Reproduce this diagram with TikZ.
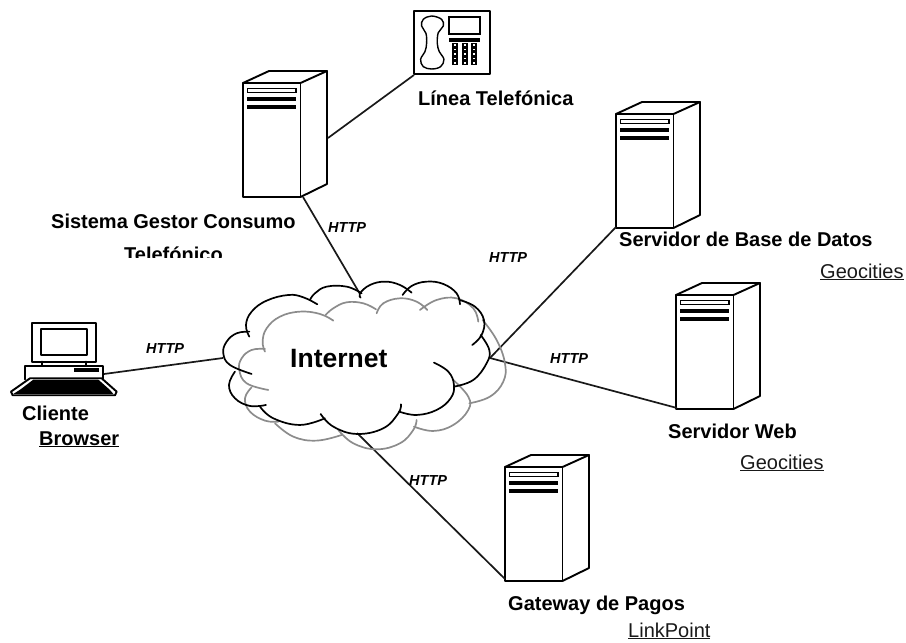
\documentclass[tikz,border=0pt]{standalone}
\usepackage{fontspec}
\setmainfont{Liberation Sans}
\tikzset{
  line/.style={line width=1.9pt,line cap=round,line join=round},
  link/.style={line width=1.7pt,black!90},
  bl/.style={line width=1.7pt,black,line cap=round},
  gr/.style={line width=1.7pt,black!45,line cap=round},
  lab/.style={font=\fontsize{20}{24}\selectfont\bfseries,anchor=base west,inner sep=0pt,text=black},
  plain/.style={font=\fontsize{20}{24}\selectfont,anchor=base west,inner sep=0pt,text=black!90},
  http/.style={font=\fontsize{14.5}{17}\selectfont\bfseries\itshape,anchor=base west,inner sep=0pt,text=black},
  srv/.pic={
    \draw[line,fill=white] (0,0) rectangle (57.5,114);
    \draw[line] (0,0) -- (26,-12) -- (84,-12) -- (57.5,0);
    \draw[line] (84,-12) -- (84,101) -- (57.5,114);
    \draw[line width=1.3pt] (4.5,5.5) rectangle (53,9.2);
    \fill (4,13.7) rectangle (53,17.7);
    \fill (4,22) rectangle (53,26);
  }
}
\newcommand{\ucl}[1]{\underline{#1}}
\newcommand{\gra}[1]{\draw[gr] plot[smooth,tension=0.7] coordinates {#1};}
\newcommand{\bla}[1]{\draw[bl] plot[smooth,tension=0.7] coordinates {#1};}
\begin{document}
\begin{tikzpicture}[x=1pt,y=-1pt]
\useasboundingbox (0,0) rectangle (906,643);
% servers
\pic at (243,83) {srv};
\pic at (616,114) {srv};
\pic at (676,295) {srv};
\pic at (505,467) {srv};
% phone
\draw[line] (414,11) rectangle (490,74);
\begin{scope}[x=0.3333pt,y=-0.3333pt,shift={(1200,0)}]
  \draw[line width=1.4pt] plot[smooth cycle,tension=0.6] coordinates {(95,48)(125,58)(130,78)(115,98)(112,130)(118,155)(132,178)(122,200)(95,207)(70,200)(62,178)(75,155)(80,130)(78,100)(65,78)(70,58)};
\end{scope}
\draw[line width=1.4pt] (449,17) rectangle (480,34);
\fill (449,38) rectangle (480,42);
\foreach \cx in {452,461.5,471}{
  \fill (\cx,43) rectangle +(6.4,22);
  \foreach \ry in {45,49.5,54,58.5,63}{\fill[white] (\cx+2,\ry-0.8) rectangle +(2.4,1.6);}
}
% client
\begin{scope}[x=0.3333pt,y=-0.3333pt,shift={(0,930)}]
  \draw[line] (95,38) rectangle (288,155);
  \draw[line] (122,57) rectangle (260,135);
  \draw[line] (125,155) -- (125,168) (258,155) -- (258,168);
  \draw[line] (75,208) -- (75,168) -- (310,168) -- (310,208);
  \fill (222,175) rectangle (297,186);
  \draw[line,fill=white] (33,245) -- (90,205) -- (305,205) -- (350,245) -- (345,256) -- (38,256) -- cycle;
  \fill (62,238) -- (100,209) -- (295,209) -- (330,240) -- (340,252) -- (40,252) -- cycle;
\end{scope}
% anchors
\coordinate (phoneC) at (414,75);
\coordinate (s1R) at (328,138);
\coordinate (s1B) at (303,197);
\coordinate (cTop) at (360,294);
\coordinate (pcR) at (104,374);
\coordinate (cL) at (223,358);
\coordinate (s2B) at (616,227);
\coordinate (cR) at (490,358);
\coordinate (s3B) at (677,408);
\coordinate (s4B) at (505,579);
\coordinate (cBot) at (357,433);
\draw[link] (phoneC) -- (s1R);
\draw[link] (s1B) -- (cTop);
\draw[link] (pcR) -- (cL);
\draw[link] (s2B) -- (cR);
\draw[link] (s3B) -- (cR);
\draw[link] (s4B) -- (cBot);
% cloud
\begin{scope}[x=0.3333pt,y=-0.3333pt,shift={(630,810)}]
\gra{(370,152)(330,132)(270,125)(210,140)(170,175)(158,215)(165,245)}
\gra{(165,237)(125,240)(95,265)(88,300)(110,340)(175,360)}
\gra{(125,352)(105,385)(120,425)(165,452)(205,455)}
\gra{(195,460)(250,500)(320,512)(395,495)}
\gra{(385,480)(430,520)(500,538)(570,520)(610,480)(620,450)}
\gra{(612,470)(670,483)(730,465)(775,420)(775,380)(730,330)}
\gra{(778,400)(840,380)(880,335)(885,280)(860,210)(818,150)}
\gra{(630,120)(680,90)(740,85)(790,115)(805,155)}
\gra{(500,130)(520,100)(570,85)(620,95)(652,120)}
\gra{(498,118)(460,100)(410,97)(370,115)(347,135)}
\bla{(322,103)(280,82)(235,75)(170,92)(125,125)(108,165)(118,200)}
\bla{(118,185)(80,190)(50,215)(40,250)(60,285)(125,312)}
\bla{(75,305)(57,345)(75,385)(120,408)(168,405)}
\bla{(150,410)(190,445)(270,465)(345,445)}
\bla{(332,432)(370,470)(440,492)(520,475)(565,430)(573,403)}
\bla{(568,425)(620,435)(680,420)(722,385)(732,345)(715,305)(672,278)}
\bla{(732,350)(790,330)(830,280)(838,240)(812,195)}
\bla{(787,225)(815,195)(822,150)(795,110)(748,90)}
\bla{(750,103)(740,70)(700,42)(650,35)(605,48)(578,75)}
\bla{(605,68)(570,45)(525,35)(480,45)(450,70)(452,83)}
\bla{(455,70)(410,50)(350,50)(315,70)(300,90)}
\end{scope}
% labels
\node[lab,font=\fontsize{26.5}{30}\selectfont\bfseries] (inet) at (290,367) {Internet};
\node[lab] (tel) at (418,105) {Línea Telefónica};
\node[lab] (sis) at (51,228) {Sistema Gestor Consumo};
\begin{scope}
  \clip (0,240) rectangle (906,257.5);
  \node[lab] (sis2) at (124,261.5) {Telefónico};
\end{scope}
\node[lab] (bd) at (619,246) {Servidor de Base de Datos};
\node[plain] (g1) at (820,278) {\ucl{Geocities}};
\node[lab] (web) at (668,438) {Servidor Web};
\node[plain] (g2) at (740,469) {\ucl{Geocities}};
\node[lab] (gw) at (508,610) {Gateway de Pagos};
\node[plain] (lp) at (628,637) {\ucl{LinkPoint}};
\node[lab] (cli) at (22,420) {Cliente};
\node[lab] (bro) at (39,445) {\ucl{Browser}};
\node[http] (h1) at (328,232) {HTTP};
\node[http] (h2) at (489,262) {HTTP};
\node[http] (h3) at (146,353) {HTTP};
\node[http] (h4) at (550,363) {HTTP};
\node[http] (h5) at (409,485) {HTTP};
\end{tikzpicture}
\end{document}
